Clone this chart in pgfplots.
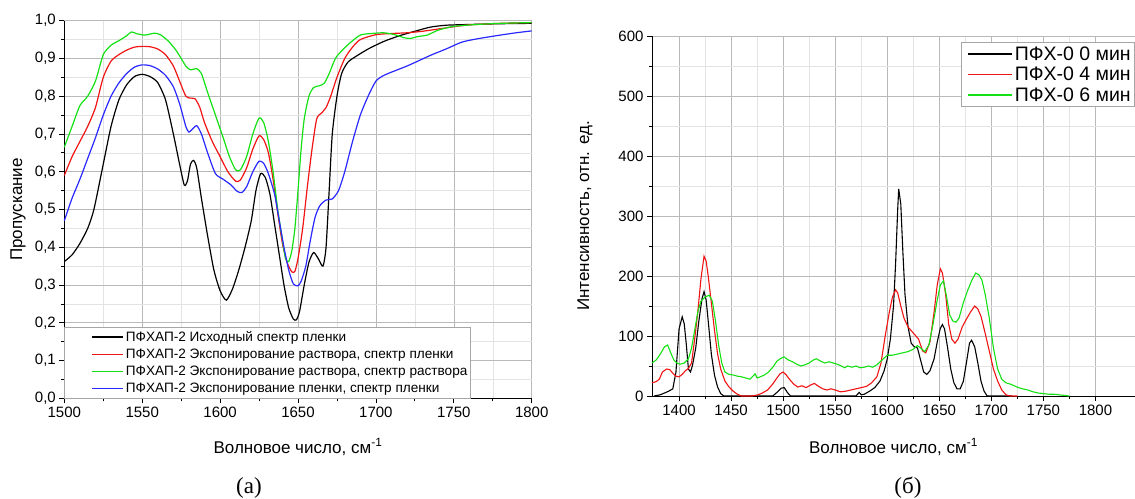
\documentclass[border=0pt]{standalone}
\usepackage{fontspec}
\setmainfont{Liberation Sans}
\newfontfamily\capfont{Liberation Serif}
\usepackage{pgfplots}
\pgfplotsset{compat=1.18}

\definecolor{cgreen}{RGB}{20,225,20}
\definecolor{cblue}{RGB}{40,40,255}
\definecolor{cred}{RGB}{240,20,20}

\pgfplotsset{
  spec/.style={
    scale only axis, clip=false,
    axis x line*=bottom, axis y line*=left,
    tick align=outside,
    major tick length=5pt, minor tick length=3pt,
    minor x tick num=1, minor y tick num=1,
    grid=both,
    major grid style={gray!55, line width=0.6pt},
    minor grid style={gray!22, line width=0.4pt},
    axis line style={line width=1pt},
    every tick/.style={black, line width=0.8pt},
    /pgf/number format/assume math mode=true,
    /pgf/number format/set thousands separator={},
    legend cell align=left,
    legend style={draw=gray!70, line width=0.6pt, inner sep=2pt},
  },
}

\begin{document}
\begin{tikzpicture}[x=1pt,y=1pt]
\path[use as bounding box] (0,0) rectangle (1135,498);

% ---------- (a) transmission ----------
\begin{axis}[spec,
  at={(64.3pt,99.7pt)}, anchor=south west,
  width=467.4pt, height=377.6pt,
  xmin=1500, xmax=1800, ymin=0, ymax=1,
  xtick={1500,1550,...,1800},
  ytick={0,0.1,...,1.0},
  yticklabel style={/pgf/number format/.cd, fixed, fixed zerofill, precision=1, use comma},
  ticklabel style={font=\fontsize{15}{17}\selectfont},
  xlabel={Волновое число, см\textsuperscript{-1}},
  ylabel={Пропускание},
  label style={font=\fontsize{17}{19}\selectfont},
  xlabel style={at={(axis description cs:0.5,-0.129)}, anchor=center},
  ylabel style={at={(axis description cs:-0.099,0.5)}, anchor=center},
  legend style={at={(axis cs:1500,0)}, anchor=south west,
    font=\fontsize{13.6}{15}\selectfont, row sep=2pt, inner xsep=1pt},
  legend image code/.code={\path (0pt,0pt); \draw[#1, line width=1.5pt] (26pt,0pt) -- (57pt,0pt);},
  every axis plot/.append style={line width=1.2pt, smooth, tension=0.4},
]
\addplot[black] coordinates {
(1500,0.362) (1505,0.38) (1510,0.41) (1515,0.45) (1519,0.50) (1525,0.62) (1530,0.72)
(1535,0.79) (1540,0.83) (1545,0.852) (1550,0.858) (1555,0.852) (1560,0.836) (1565,0.79)
(1570,0.70) (1574,0.62) (1577,0.565) (1579,0.575) (1581,0.62) (1583,0.63) (1585,0.61)
(1588,0.53) (1592,0.43) (1596,0.34) (1600,0.285) (1604,0.26) (1608,0.29) (1612,0.34)
(1616,0.40) (1620,0.47) (1623,0.55) (1626,0.595) (1629,0.585) (1632,0.54) (1635,0.46)
(1638,0.38) (1641,0.30) (1644,0.24) (1647,0.21) (1649,0.208) (1651,0.23) (1654,0.30)
(1657,0.36) (1660,0.386) (1663,0.37) (1666,0.35) (1668,0.40) (1670,0.55) (1672,0.70)
(1675,0.80) (1678,0.86) (1682,0.89) (1687,0.905) (1695,0.925) (1705,0.945) (1715,0.96)
(1725,0.972) (1735,0.983) (1745,0.988) (1760,0.99) (1780,0.992) (1800,0.993)
};
\addlegendentry{ПФХАП-2 Исходный спектр пленки}
\addplot[cred] coordinates {
(1500,0.59) (1505,0.64) (1510,0.68) (1515,0.72) (1520,0.77) (1525,0.85) (1530,0.893)
(1535,0.91) (1540,0.922) (1545,0.93) (1550,0.932) (1555,0.931) (1560,0.925) (1565,0.91)
(1570,0.88) (1574,0.84) (1578,0.80) (1581,0.795) (1584,0.793) (1587,0.77) (1590,0.73)
(1595,0.68) (1600,0.64) (1605,0.60) (1610,0.575) (1613,0.578) (1617,0.61) (1621,0.66)
(1625,0.695) (1628,0.685) (1631,0.65) (1634,0.58) (1637,0.49) (1640,0.41) (1643,0.36)
(1646,0.335) (1648,0.336) (1650,0.37) (1653,0.45) (1656,0.56) (1659,0.66) (1662,0.74)
(1665,0.755) (1668,0.77) (1671,0.80) (1675,0.85) (1680,0.90) (1685,0.93) (1690,0.95)
(1700,0.963) (1710,0.966) (1720,0.968) (1730,0.972) (1740,0.978) (1750,0.984)
(1760,0.989) (1780,0.993) (1800,0.995)
};
\addlegendentry{ПФХАП-2 Экспонирование раствора, спектр пленки}
\addplot[cgreen] coordinates {
(1500,0.665) (1505,0.72) (1510,0.775) (1515,0.80) (1520,0.84) (1525,0.91) (1530,0.935)
(1535,0.947) (1540,0.96) (1543,0.97) (1547,0.965) (1552,0.962) (1558,0.967) (1562,0.962)
(1567,0.945) (1572,0.92) (1578,0.88) (1581,0.87) (1585,0.873) (1588,0.86) (1592,0.81)
(1597,0.75) (1602,0.69) (1606,0.64) (1610,0.605) (1613,0.605) (1617,0.64) (1621,0.70)
(1625,0.742) (1628,0.73) (1631,0.68) (1634,0.60) (1637,0.50) (1640,0.42) (1642,0.37)
(1644,0.362) (1646,0.39) (1648,0.45) (1650,0.55) (1652,0.66) (1654,0.74) (1657,0.80)
(1660,0.823) (1664,0.828) (1667,0.835) (1670,0.86) (1674,0.90) (1678,0.92) (1683,0.94)
(1690,0.962) (1697,0.966) (1705,0.968) (1712,0.963) (1718,0.955) (1722,0.953)
(1727,0.958) (1733,0.962) (1740,0.975) (1750,0.985) (1765,0.99) (1780,0.993) (1800,0.995)
};
\addlegendentry{ПФХАП-2 Экспонирование раствора, спектр раствора}
\addplot[cblue] coordinates {
(1500,0.47) (1505,0.53) (1510,0.58) (1515,0.635) (1520,0.69) (1525,0.75) (1530,0.80)
(1535,0.835) (1540,0.86) (1545,0.877) (1550,0.883) (1555,0.881) (1560,0.872) (1565,0.855)
(1570,0.825) (1574,0.78) (1578,0.72) (1580,0.705) (1582,0.712) (1585,0.722) (1588,0.70)
(1592,0.65) (1597,0.595) (1602,0.58) (1607,0.565) (1611,0.548) (1614,0.545) (1617,0.56)
(1621,0.60) (1625,0.628) (1628,0.622) (1631,0.595) (1635,0.54) (1638,0.47) (1641,0.40)
(1644,0.34) (1647,0.303) (1650,0.298) (1652,0.31) (1655,0.35) (1658,0.42) (1661,0.48)
(1664,0.51) (1668,0.525) (1672,0.528) (1676,0.55) (1680,0.60) (1685,0.68) (1690,0.75)
(1695,0.80) (1700,0.84) (1705,0.855) (1712,0.867) (1720,0.88) (1728,0.895) (1736,0.91)
(1745,0.925) (1755,0.943) (1765,0.952) (1780,0.962) (1790,0.968) (1800,0.973)
};
\addlegendentry{ПФХАП-2 Экспонирование пленки, спектр пленки}
\node[font=\capfont\fontsize{23}{25}\selectfont] at (rel axis cs:0.395,-0.2375) {(а)};
\end{axis}

% ---------- (б) intensity ----------
\begin{axis}[spec,
  at={(652pt,102pt)}, anchor=south west,
  width=483pt, height=360pt,
  xmin=1374, xmax=1838, ymin=0, ymax=600,
  xtick={1400,1450,...,1800},
  ytick={0,100,...,600},
  ticklabel style={font=\fontsize{15}{17}\selectfont},
  xlabel={Волновое число, см\textsuperscript{-1}},
  ylabel={Интенсивность, отн. ед.},
  label style={font=\fontsize{17}{19}\selectfont},
  xlabel style={at={(axis description cs:0.5,-0.142)}, anchor=center},
  ylabel style={at={(axis description cs:-0.139,0.5)}, anchor=center},
  legend style={at={(rel axis cs:1,0.983)}, anchor=north east,
    font=\fontsize{19.5}{21}\selectfont, row sep=1.5pt, inner xsep=2pt},
  legend image code/.code={\path (0pt,0pt); \draw[#1, line width=1.5pt] (4pt,0pt) -- (48pt,0pt);},
  every axis plot/.append style={line width=1.1pt},
]
\addplot[black] coordinates {
(1376,0) (1382,2) (1386,5) (1390,8) (1394,12) (1397,40) (1400,112) (1403,132) (1405,120)
(1407,85) (1409,45) (1411,40) (1413,52) (1416,80) (1419,125) (1422,162) (1424,174)
(1426,160) (1428,125) (1431,70) (1434,35) (1437,15) (1440,4) (1443,0) (1490,0) (1494,6)
(1498,13) (1501,14) (1504,6) (1507,0) (1570,0) (1573,6) (1575,2) (1578,3) (1583,8)
(1588,14) (1593,25) (1597,42) (1600,62) (1603,95) (1606,150) (1608,220) (1610,310)
(1611,345) (1613,320) (1615,240) (1617,170) (1620,115) (1623,88) (1626,82) (1629,80)
(1632,60) (1635,40) (1638,36) (1641,42) (1645,62) (1648,90) (1651,113) (1653,119)
(1655,112) (1658,80) (1661,45) (1664,22) (1667,12) (1670,12) (1673,24) (1676,55)
(1679,88) (1681,93) (1684,82) (1687,55) (1690,25) (1693,8) (1696,0) (1720,0)
};
\addlegendentry{ПФХ-0 0 мин}
\addplot[cred] coordinates {
(1374,22) (1378,24) (1381,28) (1384,40) (1388,45) (1391,44) (1394,38) (1397,33) (1400,32)
(1403,36) (1406,42) (1409,46) (1412,55) (1415,95) (1418,140) (1421,195) (1424,233)
(1426,225) (1428,200) (1431,155) (1434,110) (1437,70) (1440,45) (1444,25) (1448,15)
(1452,8) (1456,3) (1460,0) (1470,0) (1476,2) (1480,5) (1485,10) (1490,20) (1494,30)
(1497,37) (1500,40) (1503,35) (1506,28) (1510,20) (1514,15) (1518,17) (1522,14)
(1526,18) (1530,21) (1534,16) (1538,12) (1542,10) (1546,12) (1550,10) (1555,7) (1560,8)
(1565,10) (1570,12) (1575,14) (1580,16) (1585,22) (1590,32) (1594,55) (1598,100)
(1602,140) (1605,165) (1608,177) (1610,172) (1613,150) (1616,130) (1620,115) (1625,105)
(1630,95) (1634,75) (1637,72) (1641,90) (1645,140) (1648,185) (1651,212) (1653,205)
(1656,170) (1659,120) (1662,95) (1665,88) (1668,95) (1672,115) (1676,128) (1680,140)
(1684,150) (1687,145) (1690,133) (1694,105) (1698,75) (1702,45) (1706,25) (1710,10)
(1714,2) (1718,0) (1725,0)
};
\addlegendentry{ПФХ-0 4 мин}
\addplot[cgreen] coordinates {
(1374,55) (1378,60) (1382,70) (1386,82) (1389,85) (1392,72) (1395,60) (1398,55) (1401,53)
(1405,55) (1409,62) (1412,80) (1415,110) (1418,140) (1421,158) (1425,165) (1429,168)
(1432,158) (1435,125) (1438,85) (1441,55) (1444,40) (1448,36) (1452,35) (1456,33)
(1460,32) (1464,30) (1468,28) (1471,33) (1473,37) (1475,30) (1478,32) (1482,35)
(1486,40) (1490,48) (1494,58) (1498,63) (1501,65) (1505,60) (1509,57) (1513,53)
(1517,50) (1521,52) (1525,55) (1529,60) (1532,62) (1536,58) (1540,55) (1544,57)
(1548,55) (1552,53) (1556,50) (1559,47) (1562,50) (1566,48) (1570,50) (1574,47)
(1578,48) (1582,50) (1586,48) (1590,52) (1595,60) (1600,68) (1605,68) (1610,70)
(1615,72) (1620,74) (1625,78) (1629,84) (1632,80) (1636,74) (1640,85) (1644,120)
(1648,160) (1651,185) (1654,192) (1657,165) (1660,135) (1663,125) (1666,123)
(1669,130) (1673,155) (1677,175) (1681,192) (1685,205) (1688,202) (1691,193)
(1694,170) (1698,130) (1702,80) (1706,45) (1710,28) (1714,22) (1718,20) (1722,17)
(1726,14) (1730,12) (1735,10) (1740,7) (1745,5) (1750,4) (1755,3) (1760,3) (1765,2)
(1770,1) (1775,0)
};
\addlegendentry{ПФХ-0 6 мин}
\node[font=\capfont\fontsize{23}{25}\selectfont] at (rel axis cs:0.530,-0.2556) {(б)};
\end{axis}
\end{tikzpicture}
\end{document}
